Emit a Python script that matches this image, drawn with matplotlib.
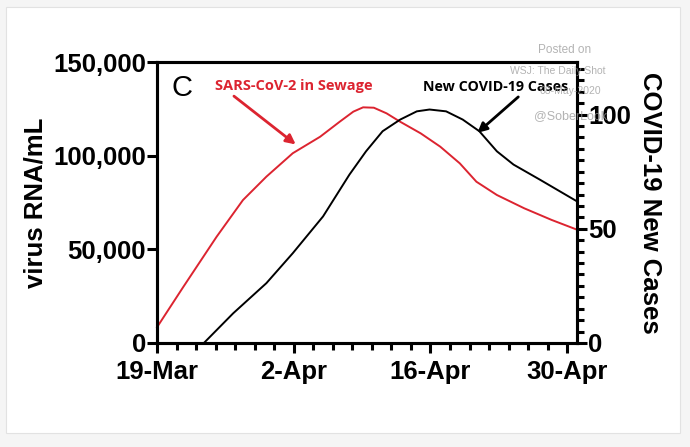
"""
Sewage RNA vs new COVID-19 cases, twin-axis line chart.
"""
import matplotlib.pyplot as plt
from matplotlib.patches import Rectangle
from matplotlib.ticker import MultipleLocator, FuncFormatter

#x positions are days after 19-Mar
tick_days = [0, 14, 28, 42]
tick_labels = ['19-Mar', '2-Apr', '16-Apr', '30-Apr']

#virus RNA per mL in sewage (left axis)
sewage_days = [0, 2.7, 6.1, 8.8, 11.2, 13.9, 16.7, 18.7, 20.1, 21.1, 22.2, 23.5,
               24.9, 27.0, 29.0, 31.0, 32.7, 34.8, 37.6, 40.4, 43.0]
sewage_rna = [8400, 30000, 56700, 76300, 88800, 101300, 110100, 118100, 123500,
              125800, 125600, 122600, 118100, 111900, 104800, 95900, 86100, 79000,
              71900, 65700, 60500]

#new covid-19 cases (right axis)
cases_days = [4.8, 7.8, 11.2, 13.9, 17.0, 19.7, 21.4, 23.1, 24.9, 26.6, 27.9,
              29.6, 31.3, 33.0, 34.8, 36.5, 39.2, 43.0]
new_cases = [0, 13, 26.2, 39.3, 55.4, 73.7, 83.9, 92.7, 97.8, 101.4, 102.2,
             101.4, 97.8, 92.7, 83.9, 78.1, 71.5, 62]

RED = '#dc2430'
BOLD = 'Liberation Sans'
FS = 18.5

fig = plt.figure(figsize=(6.9, 4.47), dpi=100)
fig.patch.set_facecolor('#f5f5f5')
fig.patches.append(Rectangle((6/690, 1 - 433/447), 674/690, 426/447,
                             transform=fig.transFigure, facecolor='white',
                             edgecolor='#e2e2e2', linewidth=0.8, zorder=-5))

ax = fig.add_axes([157/690, 1 - 343/447, 420/690, 281/447])
ax2 = ax.twinx()

ax.plot(sewage_days, sewage_rna, color=RED, linewidth=1.4, clip_on=False, zorder=3)
ax2.plot(cases_days, new_cases, color='black', linewidth=1.4, clip_on=False, zorder=3)

ax.set_xlim(0, 43)
ax.set_ylim(0, 150000)
ax2.set_ylim(0, 123)

ax.set_xticks(tick_days)
ax.set_xticklabels(tick_labels)
ax.xaxis.set_minor_locator(MultipleLocator(2))
ax.set_yticks([0, 50000, 100000, 150000])
ax.yaxis.set_major_formatter(FuncFormatter(lambda v, p: f'{int(v):,}'))
ax2.set_yticks([0, 50, 100])
ax2.yaxis.set_minor_locator(MultipleLocator(5))

for a in (ax, ax2):
    for s in a.spines.values():
        s.set_linewidth(2.2)
    a.tick_params(which='major', length=7, width=2.2, labelsize=FS, pad=1)
    a.tick_params(which='minor', length=5, width=2.2)
    a.patch.set_visible(False)
ax.tick_params(axis='x', which='major', pad=5)
for lab in ax.get_xticklabels() + ax.get_yticklabels() + ax2.get_yticklabels():
    lab.set_fontfamily(BOLD)
    lab.set_fontweight('bold')

ax.set_ylabel('virus RNA/mL', fontsize=FS, fontweight='bold', family=BOLD, labelpad=4)
ax2.set_ylabel('COVID-19 New Cases', fontsize=FS, fontweight='bold', family=BOLD,
               rotation=270, labelpad=22)

#panel letter and curve annotations
ax.text(1.5, 136000, 'C', fontsize=21, family='Liberation Sans',
        va='center', ha='left')
ax.annotate('SARS-CoV-2 in Sewage', xy=(14.2, 106000), xytext=(5.9, 137000),
            color=RED, fontsize=10.5, fontweight='bold', family='Open Sans',
            va='center', ha='left',
            arrowprops=dict(arrowstyle='-|>', color=RED, lw=2, mutation_scale=14,
                            shrinkA=0, shrinkB=0, relpos=(0.1, 0)))
ax2.annotate('New COVID-19 Cases', xy=(32.8, 92), xytext=(27.2, 112),
             color='black', fontsize=10.3, fontweight='bold', family='Open Sans',
             va='center', ha='left',
             arrowprops=dict(arrowstyle='-|>', color='black', lw=2, mutation_scale=14,
                             shrinkA=0, shrinkB=0, relpos=(0.68, 0)))

#watermark
wm = dict(color='#9a9a9a', alpha=0.75, family='Liberation Sans', ha='left', va='center')
fig.text(538/690, 1 - 50/447, 'Posted on', fontsize=8.5, **wm)
fig.text(510/690, 1 - 71/447, 'WSJ: The Daily Shot', fontsize=7.5, **wm)
fig.text(540/690, 1 - 91/447, '08-May-2020', fontsize=7.5, **wm)
fig.text(534/690, 1 - 116/447, '@SoberLook', fontsize=9, **wm)

plt.savefig('out.png', dpi=100, facecolor=fig.get_facecolor())
